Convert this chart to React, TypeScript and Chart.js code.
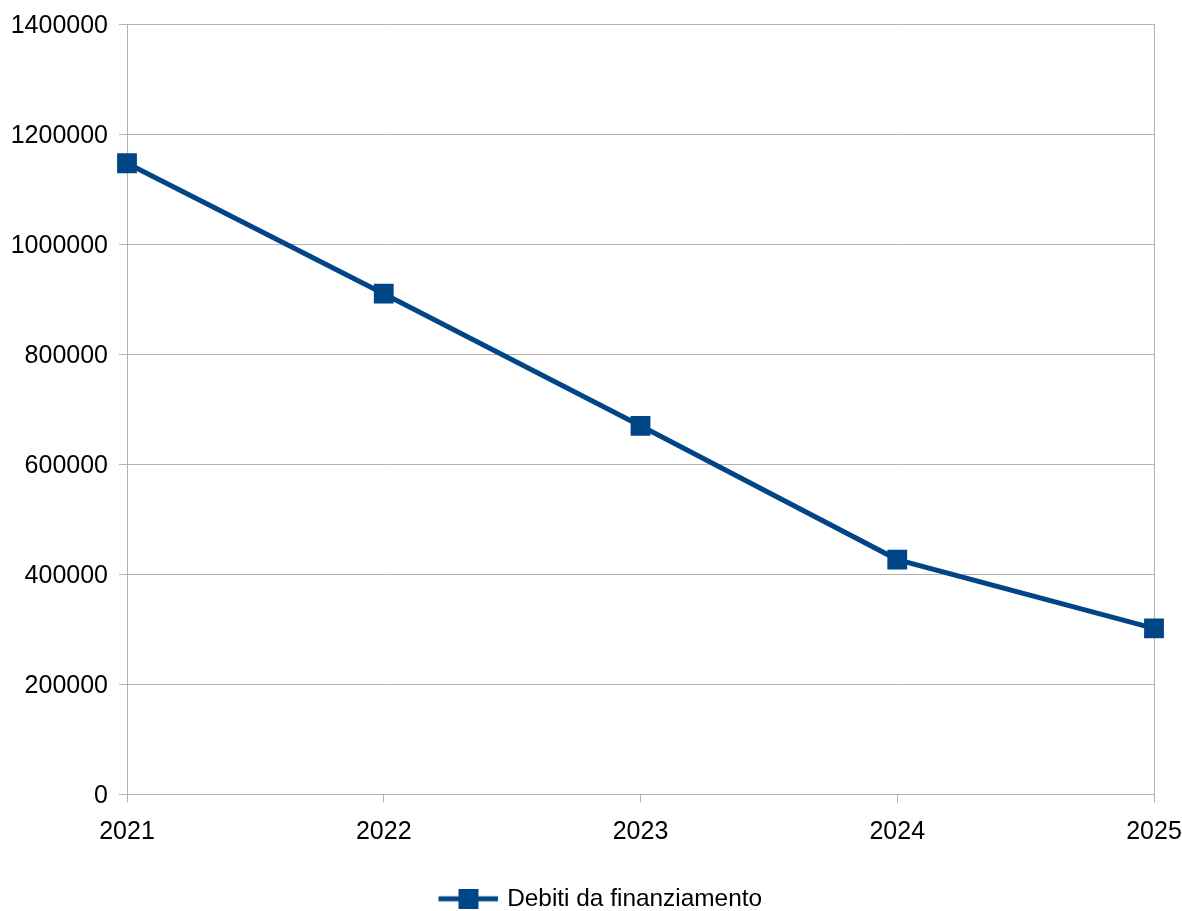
import React, { useEffect, useRef } from "react";
import { Chart, registerables } from "chart.js";

Chart.register(...registerables);

const categories = ["2021", "2022", "2023", "2024", "2025"];
const seriesName = "Debiti da finanziamento";
const debitiValues = [1147000, 910000, 670000, 427000, 302000];
const yTickMax = 1400000;
const yTickStep = 200000;

const LINE_COLOR = "#004586";
const GRID_COLOR = "#b3b3b3";
const FONT = "'Liberation Sans', Arial, sans-serif";

function makeLegendIcon(): HTMLCanvasElement {
  const c = document.createElement("canvas");
  c.width = 110;
  c.height = 20;
  const ctx = c.getContext("2d")!;
  ctx.fillStyle = LINE_COLOR;
  ctx.fillRect(50, 7.5, 60, 5);
  ctx.fillRect(70, 0, 20, 20);
  return c;
}

export default function App() {
  const ref = useRef<HTMLCanvasElement | null>(null);

  useEffect(() => {
    if (!ref.current) return;
    const icon = makeLegendIcon();
    const chart = new Chart(ref.current, {
      type: "line",
      data: {
        labels: categories,
        datasets: [
          {
            label: seriesName,
            data: debitiValues,
            borderColor: LINE_COLOR,
            backgroundColor: LINE_COLOR,
            borderWidth: 5,
            pointStyle: "rect",
            pointRadius: 14,
            pointBorderWidth: 0,
            pointHoverRadius: 14,
            tension: 0,
          },
        ],
      },
      options: {
        animation: false,
        responsive: false,
        maintainAspectRatio: false,
        layout: { padding: { top: 24, right: 28, bottom: -10, left: 0 } },
        plugins: {
          tooltip: { enabled: false },
          legend: {
            position: "bottom",
            labels: {
              color: "#000",
              font: { family: FONT, size: 24.4 },
              usePointStyle: true,
              pointStyleWidth: 103,
              boxHeight: 20,
              padding: 1,
              generateLabels: () => [
                {
                  text: seriesName,
                  pointStyle: icon as any,
                  fillStyle: LINE_COLOR,
                  strokeStyle: LINE_COLOR,
                  lineWidth: 0,
                  hidden: false,
                  datasetIndex: 0,
                } as any,
              ],
            },
          },
        },
        scales: {
          x: {
            offset: false,
            border: { display: true, color: GRID_COLOR, width: 1 },
            grid: {
              display: true,
              drawOnChartArea: true,
              color: (ctx: any) =>
                ctx.index === 0 || ctx.index === categories.length - 1 ? GRID_COLOR : "rgba(0,0,0,0)",
              tickColor: GRID_COLOR,
              tickLength: 8,
              lineWidth: 1,
            },
            ticks: {
              color: "#000",
              font: { family: FONT, size: 25 },
              padding: 15,
              maxRotation: 0,
              autoSkip: false,
            },
            afterFit: (scale: any) => {
              scale.height = 91;
              scale.paddingLeft = 0;
              scale.paddingRight = 0;
            },
          },
          y: {
            min: 0,
            max: yTickMax,
            border: { display: true, color: GRID_COLOR, width: 1 },
            grid: {
              color: GRID_COLOR,
              tickColor: GRID_COLOR,
              tickLength: 8,
              lineWidth: 1,
            },
            ticks: {
              stepSize: yTickStep,
              color: "#000",
              font: { family: FONT, size: 25 },
              padding: 11,
              labelOffset: 2,
              callback: (v: any) => String(v),
            },
            afterFit: (scale: any) => {
              scale.width = 127;
              scale.paddingTop = 0;
              scale.paddingBottom = 0;
            },
          },
        },
      },
    });
    return () => chart.destroy();
  }, []);

  return (
    <div style={{ position: "fixed", left: 0, top: 0, width: 1182, height: 911, background: "#fff" }}>
      <canvas ref={ref} width={1182} height={911} style={{ width: 1182, height: 911, display: "block" }} />
    </div>
  );
}
